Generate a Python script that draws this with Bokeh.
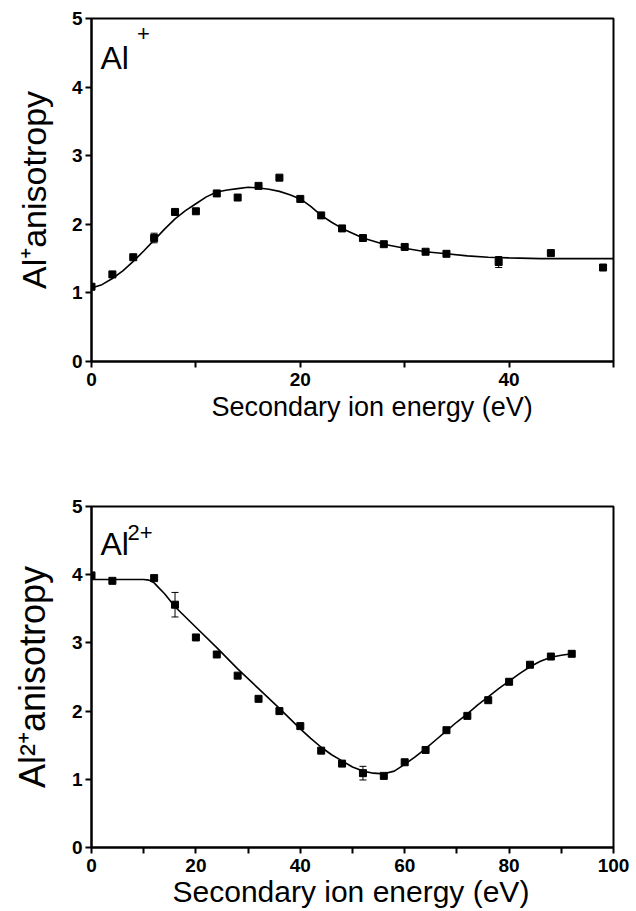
from bokeh.plotting import figure
from bokeh.layouts import column
from bokeh.models import FixedTicker, Label, Whisker, ColumnDataSource, Range1d, TeeHead, Title
from bokeh.embed import file_html
from bokeh.resources import INLINE

# ---- Al+ data ----
al1_x = [0, 2, 4, 6, 8, 10, 12, 14, 16, 18, 20, 22, 24, 26, 28, 30, 32, 34, 39, 44, 49]
al1_y = [1.09, 1.27, 1.52, 1.80, 2.18, 2.19, 2.45, 2.39, 2.56, 2.68, 2.37, 2.13, 1.94, 1.80,
         1.71, 1.67, 1.60, 1.57, 1.45, 1.58, 1.37]
al1_err_x = [6, 39]
al1_err_y = [1.80, 1.45]
al1_err = [0.07, 0.08]
fit1_x = [0, 1, 2, 3, 4, 5, 6, 7, 8, 9, 10, 11, 12, 13, 14, 15, 16, 17, 18, 19, 20, 21, 22,
          23, 24, 25, 26, 28, 30, 32, 34, 36, 38, 40, 43, 46, 50]
fit1_y = [1.07, 1.12, 1.21, 1.32, 1.46, 1.61, 1.77, 1.93, 2.08, 2.20, 2.30, 2.40, 2.47, 2.50,
          2.52, 2.54, 2.53, 2.51, 2.48, 2.43, 2.37, 2.26, 2.13, 2.03, 1.94, 1.87, 1.80, 1.71,
          1.65, 1.60, 1.57, 1.54, 1.52, 1.51, 1.50, 1.50, 1.50]

# ---- Al2+ data ----
al2_x = [0, 4, 12, 16, 20, 24, 28, 32, 36, 40, 44, 48, 52, 56, 60, 64, 68, 72, 76, 80, 84, 88, 92]
al2_y = [3.99, 3.91, 3.95, 3.56, 3.08, 2.83, 2.52, 2.18, 2.00, 1.78, 1.42, 1.23, 1.09, 1.05,
         1.25, 1.43, 1.72, 1.93, 2.16, 2.43, 2.68, 2.80, 2.84]
al2_err_x = [16, 52]
al2_err_y = [3.56, 1.09]
al2_err = [0.18, 0.10]
fit2_x = [0, 5, 10, 11, 12, 13, 14, 16, 20, 24, 28, 32, 36, 40, 42, 44, 46, 48, 50, 52, 54,
          56, 58, 60, 62, 64, 66, 68, 70, 72, 74, 76, 78, 80, 82, 84, 86, 88, 90, 92]
fit2_y = [3.93, 3.93, 3.93, 3.92, 3.88, 3.80, 3.72, 3.53, 3.23, 2.93, 2.62, 2.33, 2.04, 1.74,
          1.60, 1.47, 1.36, 1.27, 1.18, 1.12, 1.09, 1.08, 1.12, 1.22, 1.33, 1.45, 1.58, 1.71,
          1.84, 1.96, 2.09, 2.21, 2.33, 2.44, 2.55, 2.65, 2.73, 2.79, 2.82, 2.84]

y_ticks = [0, 1, 2, 3, 4, 5]
x1_major = [0, 20, 40]
x1_minor = [10, 30, 50]
x2_major = [0, 20, 40, 60, 80, 100]
x2_minor = [10, 30, 50, 70, 90]

x_title = "Secondary ion energy (eV)"
y1_title = "Al\u207aanisotropy"
y2_title = "Al\u00b2\u207aanisotropy"

FONT = "Liberation Sans"


def make_fig(height, width, xmax, xmaj, xmin, border_top, border_bottom, border_right,
             px, py, perr, ex, ey, fx, fy, ylab, ysize):
    p = figure(width=width, height=height, x_range=Range1d(0, xmax), y_range=Range1d(0, 5),
               output_backend="svg", toolbar_location=None,
               min_border_left=91, min_border_right=border_right,
               min_border_top=border_top, min_border_bottom=border_bottom)
    p.background_fill_color = "white"
    p.border_fill_color = "white"
    p.outline_line_color = "black"
    p.outline_line_width = 2
    p.xgrid.visible = False
    p.ygrid.visible = False

    p.xaxis.ticker = FixedTicker(ticks=xmaj, minor_ticks=xmin)
    p.yaxis.ticker = FixedTicker(ticks=y_ticks, minor_ticks=[])
    for ax in (p.xaxis, p.yaxis):
        ax.axis_line_width = 2
        ax.axis_line_color = "black"
        ax.major_tick_line_width = 2
        ax.minor_tick_line_width = 2
        ax.major_tick_in = 0
        ax.major_tick_out = 6
        ax.minor_tick_in = 0
        ax.minor_tick_out = 6
        ax.major_label_text_font = FONT
        ax.major_label_text_font_size = "19px"
        ax.major_label_text_font_style = "bold"
        ax.major_label_text_color = "black"
    p.xaxis.major_label_standoff = 5
    p.yaxis.major_label_standoff = 3
    p.yaxis.axis_label = ylab
    p.yaxis.axis_label_text_font = FONT
    p.yaxis.axis_label_text_font_size = ysize
    p.yaxis.axis_label_text_font_style = "normal"
    p.yaxis.axis_label_text_color = "black"
    p.yaxis.axis_label_standoff = 16

    p.line(fx, fy, line_color="black", line_width=1.6)
    p.scatter(px, py, marker="square", size=7, color="black")
    src = ColumnDataSource(dict(x=ex, lo=[a - b for a, b in zip(ey, perr)],
                                hi=[a + b for a, b in zip(ey, perr)]))
    w = Whisker(base="x", lower="lo", upper="hi", source=src, line_width=1,
                line_color="black",
                upper_head=TeeHead(size=7, line_width=1, line_color="black"),
                lower_head=TeeHead(size=7, line_width=1, line_color="black"))
    p.add_layout(w)
    return p


def lbl(p, text, x, y, size, align="left", baseline="alphabetic"):
    p.add_layout(Label(x=x, y=y, x_units="screen", y_units="screen", text=text,
                       text_font=FONT, text_font_size=size, text_align=align,
                       text_baseline=baseline, text_color="black"))


def xtitle(p, size, offset, standoff):
    p.add_layout(Title(text=x_title, align="left", offset=offset, standoff=standoff,
                       text_font=FONT, text_font_size=size, text_font_style="normal",
                       text_color="black"), "below")


# ---- top figure ----
p1 = make_fig(468, 636, 50, x1_major, x1_minor, 18, 107, 20,
              al1_x, al1_y, al1_err, al1_err_x, al1_err_y, fit1_x, fit1_y, y1_title, "34px")
lbl(p1, "Al", 9, 304, "32px")
lbl(p1, "+", 52, 328, "22px", align="center", baseline="middle")
xtitle(p1, "27px", 120, 3)

# ---- bottom figure ----
p2 = make_fig(443, 636, 100, x2_major, x2_minor, 38, 64, 23,
              al2_x, al2_y, al2_err, al2_err_x, al2_err_y, fit2_x, fit2_y, y2_title, "36px")
lbl(p2, "Al", 9, 304, "32px")
lbl(p2, "2+", 36, 315, "22px")
xtitle(p2, "30px", 81, -4)

layout = column(p1, p2)
open("out.html", "w").write(file_html(layout, INLINE))
